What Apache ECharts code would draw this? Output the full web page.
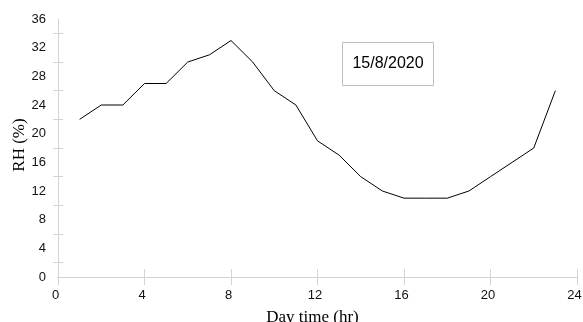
<!DOCTYPE html>
<html>
<head>
<meta charset="utf-8">
<script src="https://cdn.jsdelivr.net/npm/echarts@6/dist/echarts.min.js"></script>
<style>
  html, body { margin: 0; padding: 0; background: #fff; }
  #chart { width: 583px; height: 322px; }
</style>
</head>
<body>
<div id="chart"></div>
<script>
// hourly readings
var hours = [1, 2, 3, 4, 5, 6, 7, 8, 9, 10, 11, 12, 13, 14, 15, 16, 17, 18, 19, 20, 21, 22, 23];
var rh = [22, 24, 24, 27, 27, 30, 31, 33, 30, 26, 24, 19, 17, 14, 12, 11, 11, 11, 12, 14, 16, 18, 26];
var yTickMarks = [2, 6, 10, 14, 18, 22, 26, 30, 34];
var dateLabel = '15/8/2020';
var xTitle = 'Day time (hr)';
var yTitle = 'RH (%)';

var axisGrey = '#d4d4d4';
var labelFont = 'Liberation Sans';
var titleFont = 'Liberation Serif';

var points = hours.map(function (h, i) { return [h, rh[i]]; });

var chart = echarts.init(document.getElementById('chart'));

// fresh objects per axis, echarts does not like shared sub-objects
function xAxisOpt(pos, extra) {
    return Object.assign({
        type: 'value', min: 0, max: 24, interval: 4, position: pos,
        axisLine: { lineStyle: { color: axisGrey, width: 1 } },
        axisTick: { show: true, inside: true, length: 8, lineStyle: { color: axisGrey } },
        axisLabel: { show: false },
        splitLine: { show: false }
    }, extra);
}
// y ticks sit between the labels (2, 6, 10 ...)
function yAxisOpt(pos, extra) {
    return Object.assign({
        type: 'value', min: 0, max: 36, interval: 4, position: pos,
        axisLine: { show: true, lineStyle: { color: axisGrey, width: 1 } },
        axisTick: { show: true, inside: true, length: 5, customValues: yTickMarks, lineStyle: { color: axisGrey } },
        axisLabel: { show: false },
        splitLine: { show: false }
    }, extra);
}

chart.setOption({
    animation: false,
    grid: { left: 58, right: 6, top: 19, bottom: 45, outerBoundsMode: 'none', containLabel: false },
    xAxis: [
        xAxisOpt('bottom', {
            name: xTitle, nameLocation: 'middle', nameGap: 32, nameMoveOverlap: false,
            nameTextStyle: { fontFamily: titleFont, fontSize: 17, color: '#000', padding: [0, 10, 0, 0] },
            axisLabel: { fontFamily: labelFont, fontSize: 13, color: '#111', margin: 12, padding: [0, 5, 0, 0] }
        }),
        xAxisOpt('top', {})
    ],
    yAxis: [
        yAxisOpt('left', {
            name: yTitle, nameLocation: 'middle', nameGap: 30, nameMoveOverlap: false,
            nameTextStyle: { fontFamily: titleFont, fontSize: 17, color: '#000', padding: [0, 0, 0, 6] },
            axisLabel: { fontFamily: labelFont, fontSize: 13, color: '#111', margin: 12 }
        }),
        yAxisOpt('right', {})
    ],
    series: [{
        type: 'line',
        data: points,
        symbol: 'none',
        lineStyle: { color: '#000', width: 1 },
        itemStyle: { color: '#000' }
    }],
    graphic: [{
        type: 'group',
        left: 342, top: 42,
        children: [
            { type: 'rect', shape: { x: 0, y: 0, width: 91, height: 43 },
              style: { fill: '#fff', stroke: '#bfbfbf', lineWidth: 1 } },
            { type: 'text', x: 45.5, y: 21.5,
              style: { text: dateLabel, font: '16px "Liberation Sans"', fill: '#000', align: 'center', verticalAlign: 'middle' } }
        ]
    }]
});
</script>
</body>
</html>
